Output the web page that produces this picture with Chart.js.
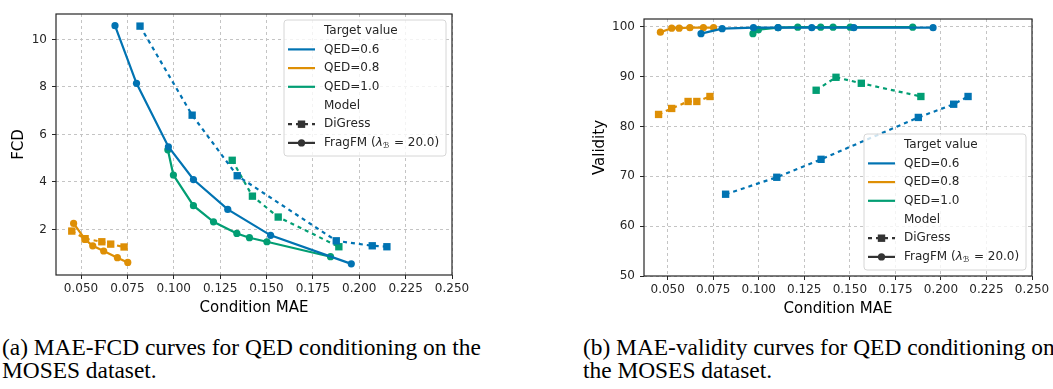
<!DOCTYPE html>
<html>
<head>
<meta charset="utf-8">
<script src="https://cdn.jsdelivr.net/npm/chart.js@4/dist/chart.umd.min.js"></script>
<style>
  body { margin: 0; width: 1053px; height: 389px; background: #fff; overflow: hidden; position: relative; }
  canvas { position: absolute; top: 0; }
  #fcdChart { left: 0; }
  #validityChart { left: 530px; }
  .caption {
    position: absolute; top: 336px;
    font-family: "Liberation Serif", "Times New Roman", serif;
    font-size: 23.4px; line-height: 23px; color: #000; white-space: nowrap;
  }
</style>
</head>
<body>
<canvas id="fcdChart" width="480" height="330"></canvas>
<canvas id="validityChart" width="523" height="330"></canvas>
<div class="caption" style="left:2px">(a) MAE-FCD curves for QED conditioning on the<br>MOSES dataset.</div>
<div class="caption" style="left:583px">(b) MAE-validity curves for QED conditioning on<br>the MOSES dataset.</div>
<script>
// condition MAE / FCD / validity per target QED
const maeFragFM06 = [0.0683, 0.0799, 0.0971, 0.1106, 0.1291, 0.1522, 0.1957];
const fcdFragFM06 = [10.58, 8.15, 5.48, 4.10, 2.84, 1.75, 0.55];
const valFragFM06 = [98.6, 99.6, 99.8, 99.8, 99.8, 99.8, 99.8];

const maeFragFM08 = [0.0460, 0.0522, 0.0563, 0.0622, 0.0696, 0.0752];
const fcdFragFM08 = [2.25, 1.58, 1.31, 1.09, 0.81, 0.61];
const valFragFM08 = [98.9, 99.7, 99.7, 99.8, 99.8, 99.8];

const maeFragFM10 = [0.0968, 0.0998, 0.1106, 0.1214, 0.1340, 0.1408, 0.1502, 0.1845];
const fcdFragFM10 = [5.35, 4.29, 3.00, 2.32, 1.83, 1.65, 1.48, 0.85];
const valFragFM10 = [98.6, 99.4, 99.8, 99.9, 99.9, 99.9, 99.9, 99.9];

const maeDiGress06 = [0.0818, 0.1099, 0.1342, 0.1876, 0.2070, 0.2149];
const fcdDiGress06 = [10.56, 6.81, 4.26, 1.52, 1.31, 1.27];
const valDiGress06 = [66.4, 69.8, 73.4, 81.8, 84.45, 86.0];

const maeDiGress08 = [0.0450, 0.0522, 0.0612, 0.0660, 0.0732];
const fcdDiGress08 = [1.93, 1.61, 1.48, 1.38, 1.26];
const valDiGress08 = [82.4, 83.6, 85.0, 85.0, 86.0];

const maeDiGress10 = [0.1315, 0.1424, 0.1563, 0.1890];
const fcdDiGress10 = [4.91, 3.40, 2.52, 1.27];
const valDiGress10 = [87.25, 89.85, 88.65, 86.0];

const maeTicks = [0.050, 0.075, 0.100, 0.125, 0.150, 0.175, 0.200, 0.225, 0.250];
const fcdTicks = [2, 4, 6, 8, 10];
const validityTicks = [50, 60, 70, 80, 90, 100];

const targetLabels = ["QED=0.6", "QED=0.8", "QED=1.0"];
const modelLabels = ["DiGress", "FragFM"];

const colors = ["#0173b2", "#de8f05", "#029e73"];
const FONT = "'DejaVu Sans', sans-serif";
const TEXT = "#262626";

function points(xs, ys) {
    return xs.map((x, i) => ({ x: x, y: ys[i] }));
}

function digressSet(xs, ys, c) {
    return {
        data: points(xs, ys), showLine: true,
        borderColor: c, backgroundColor: c, borderWidth: 2.2, borderDash: [4, 4],
        pointStyle: "rect", pointRadius: 5.2, pointBorderWidth: 0
    };
}

function fragSet(xs, ys, c) {
    return {
        data: points(xs, ys), showLine: true,
        borderColor: c, backgroundColor: c, borderWidth: 2.2,
        pointStyle: "circle", pointRadius: 3.6, pointBorderWidth: 0
    };
}

// box around the plot area on all four sides
const framePlugin = {
    id: "frame",
    afterDatasetsDraw(chart) {
        const a = chart.chartArea, ctx = chart.ctx;
        ctx.save();
        ctx.strokeStyle = "#262626";
        ctx.lineWidth = 1.2;
        ctx.strokeRect(a.left, a.top, a.right - a.left, a.bottom - a.top);
        ctx.restore();
    }
};

// two-section legend: hue ("Target value") and style ("Model")
const groupLegend = {
    id: "groupLegend",
    afterDraw(chart, args, opts) {
        const ctx = chart.ctx, a = chart.chartArea;
        const w = 162, h = 136, rowH = 18.7;
        const x0 = a.right - 6 - w;
        const y0 = opts.corner === "lower" ? a.bottom - 6 - h : a.top + 6;
        ctx.save();
        ctx.beginPath();
        ctx.roundRect(x0, y0, w, h, 3);
        ctx.fillStyle = "rgba(255,255,255,0.8)";
        ctx.fill();
        ctx.strokeStyle = "#d6d6d6";
        ctx.lineWidth = 1;
        ctx.stroke();

        const rows = [{ text: "Target value" }];
        targetLabels.forEach((t, i) => rows.push({ text: t, color: colors[i], kind: "line" }));
        rows.push({ text: "Model" });
        rows.push({ text: modelLabels[0], color: "#333333", kind: "digress" });
        rows.push({ text: modelLabels[1], color: "#333333", kind: "frag" });

        ctx.font = "12px " + FONT;
        ctx.textBaseline = "middle";
        rows.forEach((r, i) => {
            const y = y0 + 10.7 + i * rowH;
            const hx1 = x0 + 4, hx2 = x0 + 31, tx = x0 + 40;
            if (r.kind) {
                ctx.strokeStyle = r.color;
                ctx.fillStyle = r.color;
                ctx.lineWidth = 2.2;
                ctx.setLineDash(r.kind === "digress" ? [4, 4] : []);
                ctx.beginPath();
                ctx.moveTo(hx1, y);
                ctx.lineTo(hx2, y);
                ctx.stroke();
                ctx.setLineDash([]);
                const mx = (hx1 + hx2) / 2;
                if (r.kind === "digress") {
                    ctx.fillRect(mx - 3.7, y - 3.7, 7.4, 7.4);
                } else if (r.kind === "frag") {
                    ctx.beginPath();
                    ctx.arc(mx, y, 3.6, 0, Math.PI * 2);
                    ctx.fill();
                }
            }
            ctx.fillStyle = TEXT;
            ctx.font = "12px " + FONT;
            let x = tx;
            if (r.kind === "frag") {
                // FragFM (λ_B = 20.0)
                const parts = [
                    ["FragFM (", "12px " + FONT, 0],
                    ["λ", "italic 12px " + FONT, 0],
                    ["ℬ", "8px " + FONT, 3],
                    [" = 20.0)", "12px " + FONT, 0]
                ];
                parts.forEach(p => {
                    ctx.font = p[1];
                    ctx.fillText(p[0], x, y + p[2]);
                    x += ctx.measureText(p[0]).width + (p[0] === "ℬ" ? 1 : 0);
                });
            } else {
                ctx.fillText(r.text, x, y);
            }
        });
        ctx.restore();
    }
};

function makeChart(id, cfg) {
    const tickFont = { family: FONT, size: 12 };
    const titleFont = { family: FONT, size: 15 };
    const gridStyle = { color: "#c4c4c4", lineWidth: 1, tickColor: "#262626", tickLength: 4, tickWidth: 1 };
    return new Chart(document.getElementById(id), {
        type: "scatter",
        data: { datasets: cfg.datasets },
        options: {
            responsive: false,
            animation: false,
            devicePixelRatio: 1,
            layout: { padding: cfg.padding },
            plugins: {
                legend: { display: false },
                tooltip: { enabled: false },
                groupLegend: { corner: cfg.legendCorner }
            },
            scales: {
                x: {
                    type: "linear", min: cfg.xMin, max: 0.25,
                    afterBuildTicks: axis => { axis.ticks = maeTicks.map(v => ({ value: v })); },
                    afterFit: axis => { axis.height = 45; },
                    grid: gridStyle,
                    border: { display: false, dash: [3, 3] },
                    ticks: { font: tickFont, color: TEXT, padding: 3, maxRotation: 0, autoSkip: false,
                        callback: v => Number(v).toFixed(3) },
                    title: { display: true, text: "Condition MAE", font: titleFont, color: "#000",
                        padding: { top: 0, bottom: 3 } }
                },
                y: {
                    type: "linear", min: cfg.yMin, max: cfg.yMax,
                    afterBuildTicks: axis => { axis.ticks = cfg.yTicks.map(v => ({ value: v })); },
                    afterFit: axis => { axis.width = cfg.yWidth; },
                    grid: gridStyle,
                    border: { display: false, dash: [3, 3] },
                    ticks: { font: tickFont, color: TEXT, padding: 5, callback: v => String(v) },
                    title: { display: true, text: cfg.yTitle, font: titleFont, color: "#000",
                        padding: { top: 10, bottom: 0 } }
                }
            }
        },
        plugins: [framePlugin, groupLegend]
    });
}

makeChart("fcdChart", {
    datasets: [
        digressSet(maeDiGress06, fcdDiGress06, colors[0]),
        digressSet(maeDiGress08, fcdDiGress08, colors[1]),
        digressSet(maeDiGress10, fcdDiGress10, colors[2]),
        fragSet(maeFragFM06, fcdFragFM06, colors[0]),
        fragSet(maeFragFM08, fcdFragFM08, colors[1]),
        fragSet(maeFragFM10, fcdFragFM10, colors[2])
    ],
    xMin: 0.0365, yMin: 0.08, yMax: 11.07, yTicks: fcdTicks,
    yTitle: "FCD", yWidth: 56,
    padding: { left: 0, top: 14, right: 28, bottom: 10 },
    legendCorner: "upper"
});

makeChart("validityChart", {
    datasets: [
        digressSet(maeDiGress06, valDiGress06, colors[0]),
        digressSet(maeDiGress08, valDiGress08, colors[1]),
        digressSet(maeDiGress10, valDiGress10, colors[2]),
        fragSet(maeFragFM06, valFragFM06, colors[0]),
        fragSet(maeFragFM08, valFragFM08, colors[1]),
        fragSet(maeFragFM10, valFragFM10, colors[2])
    ],
    xMin: 0.037, yMin: 50, yMax: 101.54, yTicks: validityTicks,
    yTitle: "Validity", yWidth: 63,
    padding: { left: 51, top: 19, right: 21, bottom: 9 },
    legendCorner: "lower"
});
</script>
</body>
</html>
